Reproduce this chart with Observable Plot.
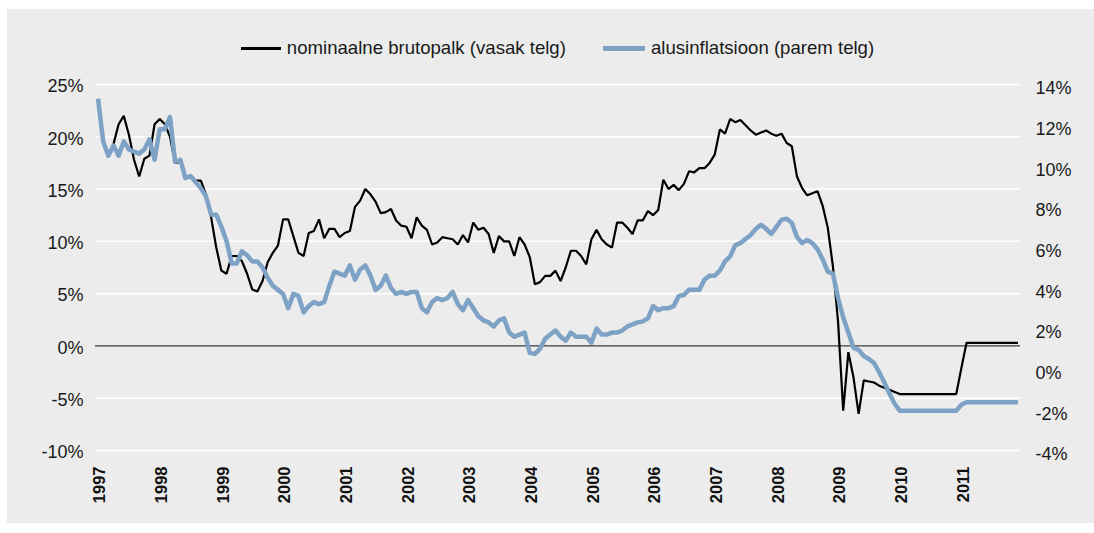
<!DOCTYPE html>
<html>
<head>
<meta charset="utf-8">
<script src="https://cdn.jsdelivr.net/npm/d3@7"></script>
<script src="https://cdn.jsdelivr.net/npm/@observablehq/plot@0.6"></script>
<style>
  html, body { margin: 0; padding: 0; background: #ffffff; }
  body { font-family: "Liberation Sans", Arial, Helvetica, sans-serif; color: #1a1a1a; }
  #panel { position: absolute; left: 7px; top: 9px; width: 1087px; height: 514px; background: #ebeceb; }
  #legend { position: absolute; left: 88px; top: 28px; width: 925px; height: 22px; display: flex; justify-content: center; align-items: center; font-size: 18.6px; line-height: 22px; white-space: nowrap; }
  .sw { display: inline-block; margin-right: 6px; }
  .gap { display: inline-block; width: 37px; }
  #chart { position: absolute; left: 0; top: 56px; }
</style>
</head>
<body>
<div id="panel">
  <div id="legend"></div>
  <div id="chart"></div>
</div>
<script>
// ---- data (monthly, Jan 1997 – Dec 2011) ----
const yearLabels = ["1997","1998","1999","2000","2001","2002","2003","2004","2005","2006","2007","2008","2009","2010","2011"];

const seriesNames = ["nominaalne brutopalk (vasak telg)", "alusinflatsioon (parem telg)"];

// nominal gross wage growth, % (left axis)
const wage = [
  23.0, 19.4, 18.2, 19.3, 21.2, 22.0, 20.2, 17.8, 16.2, 17.9, 18.2, 21.2,
  21.7, 21.2, 20.0, 17.5, 17.6, 16.2, 16.1, 15.8, 15.8, 14.5, 12.3, 9.4,
  7.2, 6.9, 8.6, 8.6, 8.1, 6.9, 5.4, 5.2, 6.2, 8.0, 8.9, 9.6,
  12.1, 12.1, 10.5, 8.9, 8.6, 10.8, 11.0, 12.1, 10.3, 11.2, 11.2, 10.4,
  10.8, 11.0, 13.3, 13.9, 15.0, 14.5, 13.8, 12.7, 12.8, 13.1, 12.0, 11.5,
  11.4, 10.3, 12.3, 11.5, 11.1, 9.7, 9.9, 10.4, 10.3, 10.2, 9.7, 10.6,
  9.9, 11.8, 11.1, 11.3, 10.7, 8.9, 10.5, 10.0, 10.0, 8.6, 10.4, 9.7,
  8.5, 5.9, 6.1, 6.7, 6.7, 7.2, 6.2, 7.5, 9.1, 9.1, 8.6, 7.8,
  10.2, 11.1, 10.2, 9.7, 9.4, 11.8, 11.8, 11.3, 10.7, 12.0, 12.0, 12.9,
  12.5, 13.0, 15.9, 15.0, 15.4, 14.9, 15.5, 16.7, 16.6, 17.0, 17.0, 17.5,
  18.3, 20.7, 20.3, 21.7, 21.4, 21.6, 21.1, 20.6, 20.2, 20.4, 20.6, 20.3,
  20.1, 20.3, 19.4, 19.1, 16.2, 15.1, 14.4, 14.6, 14.8, 13.4, 11.3, 7.6,
  2.3, -6.2, -0.6, -3.0, -6.5, -3.3, -3.4, -3.5, -3.8, -4.0, -4.2, -4.4,
  -4.6, -4.6, -4.6, -4.6, -4.6, -4.6, -4.6, -4.6, -4.6, -4.6, -4.6, -4.6,
  -2.1, 0.3, 0.3, 0.3, 0.3, 0.3, 0.3, 0.3, 0.3, 0.3, 0.3, 0.3
];

// core inflation, % (right axis)
const inflation = [
  13.3, 11.2, 10.5, 11.0, 10.5, 11.2, 10.8, 10.7, 10.6, 10.8, 11.3, 10.3,
  11.8, 11.8, 12.4, 10.2, 10.3, 9.4, 9.5, 9.2, 8.9, 8.5, 7.6, 7.6,
  7.0, 6.3, 5.2, 5.2, 5.8, 5.6, 5.3, 5.3, 5.0, 4.5, 4.1, 3.9,
  3.7, 3.0, 3.7, 3.6, 2.8, 3.1, 3.3, 3.2, 3.3, 4.1, 4.8, 4.7,
  4.6, 5.1, 4.4, 4.9, 5.1, 4.6, 3.9, 4.1, 4.6, 4.0, 3.7, 3.8,
  3.7, 3.8, 3.8, 3.0, 2.8, 3.3, 3.5, 3.4, 3.5, 3.8, 3.2, 2.9,
  3.4, 3.0, 2.6, 2.4, 2.3, 2.1, 2.4, 2.5, 1.8, 1.6, 1.7, 1.8,
  0.8, 0.75, 1.0, 1.5, 1.7, 1.9, 1.6, 1.4, 1.8, 1.6, 1.6, 1.6,
  1.3, 2.0, 1.7, 1.7, 1.8, 1.8, 1.9, 2.1, 2.2, 2.3, 2.35, 2.5,
  3.1, 2.9, 3.0, 3.0, 3.1, 3.6, 3.65, 3.9, 3.9, 3.9, 4.4, 4.6,
  4.6, 4.85, 5.3, 5.55, 6.1, 6.2, 6.4, 6.6, 6.9, 7.1, 6.9, 6.65,
  7.0, 7.35, 7.4, 7.2, 6.5, 6.2, 6.35, 6.2, 5.9, 5.4, 4.8, 4.7,
  3.5, 2.55, 1.8, 1.05, 0.95, 0.65, 0.5, 0.3, -0.15, -0.65, -1.2, -1.7,
  -2.04, -2.04, -2.04, -2.04, -2.04, -2.04, -2.04, -2.04, -2.04, -2.04, -2.04, -2.04,
  -1.75, -1.63, -1.63, -1.63, -1.63, -1.63, -1.63, -1.63, -1.63, -1.63, -1.63, -1.63
];

const leftTicks = [-10, -5, 0, 5, 10, 15, 20, 25];
const rightTicks = [-4, -2, 0, 2, 4, 6, 8, 10, 12, 14];

// ---- scales: right axis [-4,14] maps onto left axis [-10,25] ----
const L0 = -10, L1 = 25, R0 = -4, R1 = 14;
const toLeft = r => (r - R0) * (L1 - L0) / (R1 - R0) + L0;
const toRight = l => (l - L0) * (R1 - R0) / (L1 - L0) + R0;

const wageData = wage.map((v, i) => ({i, v}));
const inflData = inflation.map((v, i) => ({i, v: toLeft(v)}));
const yearIdx = yearLabels.map((y, k) => k * 12);

const FONT = '"Liberation Sans", Arial, Helvetica, sans-serif';

const chart = Plot.plot({
  width: 1087,
  height: 458,
  marginTop: 19,
  marginBottom: 73,
  marginLeft: 88,
  marginRight: 74,
  style: {background: "transparent", fontFamily: FONT, fontSize: "18px", color: "#1a1a1a", overflow: "visible"},
  x: {domain: [-0.5, wage.length - 0.5], axis: null},
  y: {domain: [L0, L1], axis: null},
  marks: [
    Plot.ruleY(leftTicks.filter(d => d !== 0), {stroke: "#ffffff", strokeWidth: 1.5}),
    Plot.ruleY([0], {stroke: "#3a3a3a", strokeWidth: 1.3}),
    Plot.axisY(leftTicks, {anchor: "left", tickSize: 0, tickPadding: 12, fontSize: 18, dy: 2, tickFormat: d => d + "%", label: null}),
    Plot.axisY(rightTicks.map(toLeft), {anchor: "right", tickSize: 0, tickPadding: 15, fontSize: 18, dy: 4,
      tickFormat: d => Math.round(toRight(d)) + "%", label: null}),
    Plot.text(yearIdx, {x: d => d, frameAnchor: "bottom", text: (d, k) => yearLabels[k],
      rotate: -90, textAnchor: "end", lineAnchor: "middle", dy: 16, dx: 2, fontSize: 16.5, fontWeight: "bold", fill: "#111"}),
    Plot.lineY(wageData, {x: "i", y: "v", stroke: "#000000", strokeWidth: 2.2, strokeLinejoin: "miter", strokeLinecap: "butt"}),
    Plot.lineY(inflData, {x: "i", y: "v", stroke: "#7ea2c6", strokeWidth: 4.5, strokeLinejoin: "round", strokeLinecap: "butt"})
  ]
});
document.getElementById("chart").appendChild(chart);

// legend
const legend = document.getElementById("legend");
const sw1 = document.createElement("span");
sw1.className = "sw"; sw1.style.width = "40px"; sw1.style.height = "3px"; sw1.style.background = "#000";
const t1 = document.createElement("span"); t1.textContent = seriesNames[0];
const gap = document.createElement("span"); gap.className = "gap";
const sw2 = document.createElement("span");
sw2.className = "sw"; sw2.style.width = "42px"; sw2.style.height = "5px"; sw2.style.background = "#7ea2c6";
const t2 = document.createElement("span"); t2.textContent = seriesNames[1];
[sw1, t1, gap, sw2, t2].forEach(e => legend.appendChild(e));
</script>
</body>
</html>
